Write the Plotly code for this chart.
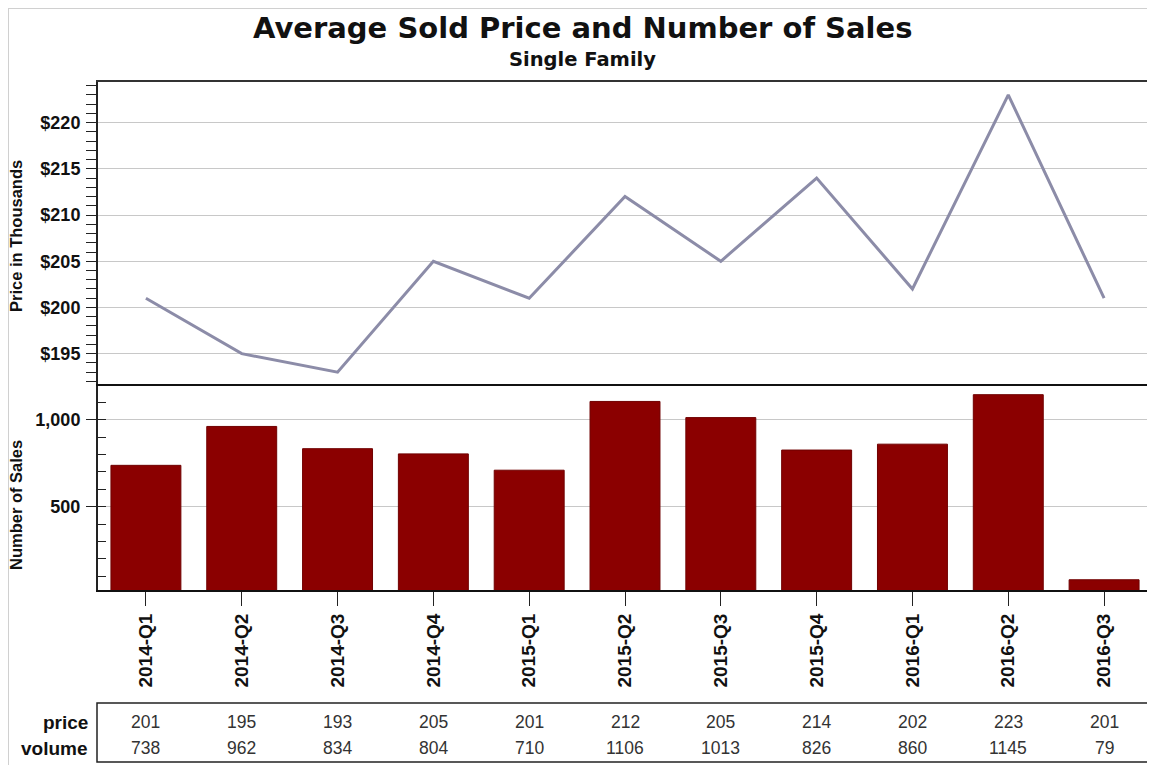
import plotly.graph_objects as go

# page is drawn with an 8px body margin, so the figure is shrunk and shifted to fit
OFF = 8
W, H = 1155 - OFF, 765 - OFF

quarters = ["2014-Q1", "2014-Q2", "2014-Q3", "2014-Q4", "2015-Q1", "2015-Q2",
            "2015-Q3", "2015-Q4", "2016-Q1", "2016-Q2", "2016-Q3"]
price = [201, 195, 193, 205, 201, 212, 205, 214, 202, 223, 201]
volume = [738, 962, 834, 804, 710, 1106, 1013, 826, 860, 1145, 79]


def px_x(p):
    return (p - OFF) / W


def px_y(p):
    return 1 - (p - OFF) / H


fig = go.Figure()

fig.add_trace(go.Scatter(
    x=quarters, y=price, mode="lines",
    line=dict(color="#8c8ca8", width=3),
    xaxis="x", yaxis="y", showlegend=False,
))
fig.add_trace(go.Bar(
    x=quarters, y=volume,
    marker=dict(color="#8b0000", line=dict(color="#700000", width=1)),
    xaxis="x2", yaxis="y2", showlegend=False,
))

sans = "Liberation Sans, Arial"
ytick_font = dict(family=sans, size=18, color="#111", weight="bold")
xtick_font = dict(family=sans, size=19, color="#111", weight="bold")
title_font = dict(family=sans, size=16.5, color="#111", weight="bold")

fig.update_layout(
    width=W, height=H,
    margin=dict(l=0, r=0, t=0, b=0),
    paper_bgcolor="white", plot_bgcolor="white",
    bargap=0.27,
    xaxis=dict(
        domain=[px_x(98), px_x(1152)], anchor="y", matches="x2", side="top",
        showticklabels=False, ticks="", showgrid=False,
        showline=True, mirror=False, linecolor="#333", linewidth=2,
    ),
    yaxis=dict(
        domain=[px_y(386), px_y(82)], anchor="x",
        range=[191.5, 224.4], dtick=5, tick0=195, tickprefix="$",
        ticks="outside", ticklen=10, tickcolor="#222", tickwidth=1,
        minor=dict(dtick=1, ticks="outside", ticklen=10, tickcolor="#222", showgrid=False),
        showgrid=True, gridcolor="#c8c8c8", gridwidth=1,
        showline=True, mirror=True, linecolor="#222", linewidth=2,
        tickfont=ytick_font, zeroline=False, ticklabelstandoff=2,
    ),
    xaxis2=dict(
        domain=[px_x(98), px_x(1152)], anchor="y2",
        type="category", tickangle=-90,
        ticks="outside", ticklen=14, tickcolor="#222",
        showgrid=False, tickfont=xtick_font,
        showline=True, mirror=True, linecolor="#111", linewidth=2,
    ),
    yaxis2=dict(
        domain=[px_y(590), px_y(386)], anchor="x2",
        range=[20, 1195], tickvals=[500, 1000], tickformat=",",
        ticks="outside", ticklen=10, tickcolor="#222",
        minor=dict(dtick=100, tick0=0, ticks="inside", ticklen=8, tickcolor="#222", showgrid=False),
        showgrid=True, gridcolor="#c8c8c8",
        showline=True, mirror=True, linecolor="#222", linewidth=2,
        tickfont=ytick_font, zeroline=False, ticklabelstandoff=2,
    ),
)

annotations = [
    dict(text="Average Sold Price and Number of Sales", x=px_x(582), y=px_y(28),
         font=dict(family="DejaVu Sans", size=29, color="#111", weight="bold")),
    dict(text="Single Family", x=px_x(582), y=px_y(60),
         font=dict(family="DejaVu Sans", size=19.5, color="#111", weight="bold")),
    dict(text="Price in Thousands", x=px_x(16), y=px_y(236), textangle=-90, font=title_font),
    dict(text="Number of Sales", x=px_x(16), y=px_y(505), textangle=-90, font=title_font),
    dict(text="price", x=px_x(90), y=px_y(722), xanchor="right",
         font=dict(family=sans, size=19, color="#111", weight="bold")),
    dict(text="volume", x=px_x(90), y=px_y(748), xanchor="right",
         font=dict(family=sans, size=19, color="#111", weight="bold")),
]
for q, p, v in zip(quarters, price, volume):
    annotations.append(dict(text=str(p), x=q, xref="x2", y=px_y(722), yref="paper",
                            font=dict(family=sans, size=17.5, color="#333")))
    annotations.append(dict(text=str(v), x=q, xref="x2", y=px_y(748), yref="paper",
                            font=dict(family=sans, size=17.5, color="#333")))

for a in annotations:
    a.setdefault("xref", "paper")
    a.setdefault("yref", "paper")
    a.setdefault("xanchor", "center")
    a.setdefault("showarrow", False)
    a.setdefault("yanchor", "middle")
fig.update_layout(annotations=annotations)

fig.update_layout(shapes=[
    # table box
    dict(type="rect", xref="paper", yref="paper",
         x0=px_x(97), x1=px_x(1152), y0=px_y(762), y1=px_y(703),
         line=dict(color="#222", width=1.5)),
    # outer light frame
    dict(type="line", xref="paper", yref="paper",
         x0=0.5 / W, x1=0.5 / W, y0=0, y1=1,
         line=dict(color="#d0d0d0", width=1)),
    dict(type="line", xref="paper", yref="paper",
         x0=0, x1=1, y0=1 - 0.5 / H, y1=1 - 0.5 / H,
         line=dict(color="#d0d0d0", width=1)),
    dict(type="line", xref="paper", yref="paper",
         x0=1 - 1.5 / W, x1=1 - 1.5 / W, y0=0, y1=1,
         line=dict(color="#d0d0d0", width=1)),
])

fig.write_html("out.html")
